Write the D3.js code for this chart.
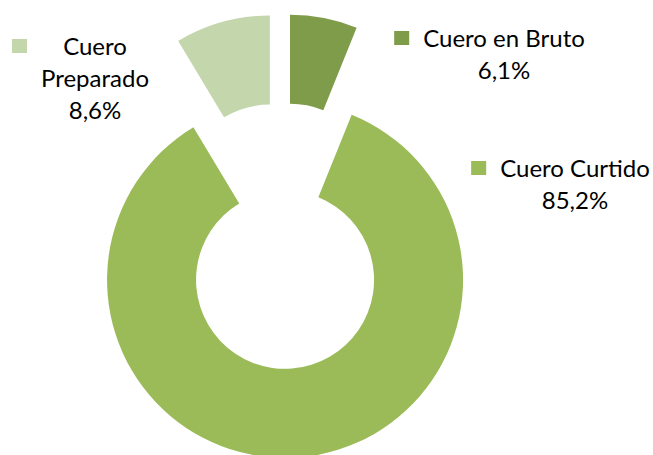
<!DOCTYPE html>
<html>
<meta charset="utf-8">
<style>

body {
  margin: 0;
  background: #fff;
}

.label {
  font-family: Lato, "Open Sans", sans-serif;
  font-size: 24px;
  fill: #000;
}

</style>
<body>
<script src="https://d3js.org/d3.v7.min.js"></script>
<script>

var categories = ["Cuero en Bruto", "Cuero Curtido", "Cuero Preparado"],
    values = [6.1, 85.2, 8.6],
    percentLabels = ["6,1%", "85,2%", "8,6%"],
    colors = ["#7f9c4a", "#9bbb59", "#c4d6ab"];

var width = 653,
    height = 455,
    cx = 281.6,
    cy = 236,
    outer = 178,
    inner = 89,
    explode = 44;

var svg = d3.select("body").append("svg")
    .attr("width", width)
    .attr("height", height);

var pie = d3.pie()
    .sort(null)
    .value(function(d) { return d; });

var arc = d3.arc()
    .innerRadius(inner)
    .outerRadius(outer);

var arcs = pie(values);

var g = svg.append("g")
    .attr("transform", "translate(" + cx + "," + cy + ")");

g.selectAll("path")
    .data(arcs)
  .enter().append("path")
    .attr("fill", function(d, i) { return colors[i]; })
    .attr("transform", function(d) {
      var a = (d.startAngle + d.endAngle) / 2;
      return "translate(" + explode * Math.sin(a) + "," + (-explode * Math.cos(a)) + ")";
    })
    .attr("d", arc);

// label blocks: center x of text, baseline of first line, lines
var labels = [
  {x: 504, y: 47, lines: [categories[0], percentLabels[0]]},
  {x: 575, y: 177, lines: [categories[1], percentLabels[1]]},
  {x: 95, y: 55, lines: ["Cuero", "Preparado", percentLabels[2]]}
];

var lineHeight = 32;

labels.forEach(function(l, i) {
  var block = svg.append("g");
  var texts = block.selectAll("text")
      .data(l.lines)
    .enter().append("text")
      .attr("class", "label")
      .attr("text-anchor", "middle")
      .attr("x", l.x)
      .attr("y", function(d, j) { return l.y + j * lineHeight; })
      .text(function(d) { return d; });

  var left = d3.min(texts.nodes(), function(n) { return n.getBBox().x; });
  block.append("rect")
      .attr("x", left - 29)
      .attr("y", l.y - 16)
      .attr("width", 15)
      .attr("height", 14)
      .attr("fill", colors[i]);
});

</script>
</body>
</html>
